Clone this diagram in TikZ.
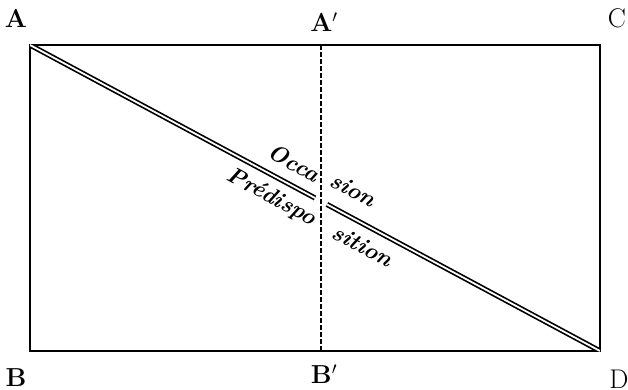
\documentclass[tikz,border=0pt]{standalone}
\usepackage{fontspec}
\usepackage{tikz}
\usetikzlibrary{calc}
\tikzset{
    frame/.style={line width=1.7pt},
    diag/.style={double, double distance=1.8pt, line width=1.7pt},
    divide/.style={line width=1.5pt, dash pattern=on 5pt off 2pt},
    corner/.style={font=\fontsize{26}{30}\selectfont\bfseries, inner sep=0pt},
    cornerlight/.style={font=\fontsize{27}{31}\selectfont, inner sep=0pt},
    word/.style={font=\fontsize{23}{27}\selectfont\bfseries\itshape, inner sep=0pt, rotate=-28.2}
}
\begin{document}
\begin{tikzpicture}[x=1pt, y=1pt]
    \useasboundingbox (0,0) rectangle (628,389);

    % corners of the frame
    \coordinate (a) at (30,344);
    \coordinate (c) at (600,344);
    \coordinate (b) at (30,38);
    \coordinate (d) at (600,38);
    \coordinate (top) at (321,344);
    \coordinate (bot) at (321,38);

    \draw[frame] (a) rectangle (d);
    \draw[divide] (top) -- (bot);

    % the diagonal, broken at the divide
    \coordinate (gapl) at ($(a)!0.5!(d)$);
    \coordinate (gapr) at ($(a)!0.521!(d)$);
    \begin{scope}
        \clip (a) rectangle (d);
        \draw[diag] (a) -- (gapl);
        \draw[diag] (gapr) -- (d);
    \end{scope}

    \node[word, anchor=base east] (occa)  at (315,206) {Occa};
    \node[word, anchor=base west] (sion)  at (328,204) {sion};
    \node[word, anchor=base east] (predi) at (312,163) {Prédispo};
    \node[word, anchor=base west] (sitio) at (330,152) {sition};

    \node[corner]      (la)  at (16,371)  {A};
    \node[corner]      (lap) at (324,367) {A$'$};
    \node[cornerlight] (lc)  at (617,371) {C};
    \node[corner]      (lb)  at (16,11)   {B};
    \node[corner]      (lbp) at (324,15)  {B$'$};
    \node[cornerlight] (ld)  at (619,10)  {D};

\end{tikzpicture}
\end{document}
